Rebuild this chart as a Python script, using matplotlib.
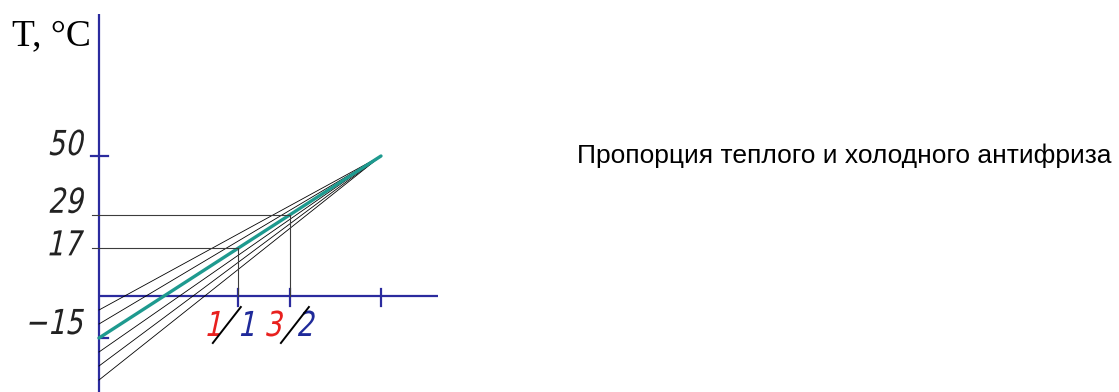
import matplotlib
matplotlib.use("Agg")
import matplotlib.pyplot as plt
from matplotlib.font_manager import FontProperties
from matplotlib.patches import PathPatch
from matplotlib.textpath import TextPath
from matplotlib.transforms import Affine2D, IdentityTransform
import numpy as np

# температуры (°C)
t_hot = 50
t_cold = -15
fan_starts = [-5, -10, -15, -20, -25, -30]   # начала вспомогательных лучей
mix_temps = [17, 29]                          # температура смеси
mix_warm = ["1", "3"]                         # доля тёплого
mix_cold = ["1", "2"]                         # доля холодного
y_labels = [50, 29, 17, -15]

AXIS = "#2b2b9e"
TEAL = "#1e9a8f"
GRID = "#3c3c3c"

W, H = 1119, 392
X0, X1 = 99, 381        # пиксели для x = 0 и x = 1
Y0, K = 296, 2.8        # пиксель для T = 0, пикселей на градус


def px(dx):
    return dx / (X1 - X0)


def py(dy):
    return dy / K


fig = plt.figure(figsize=(W / 100, H / 100), dpi=100)
ax = fig.add_axes([0, 0, 1, 1])
ax.set_xlim(-X0 / (X1 - X0), (W - X0) / (X1 - X0))
ax.set_ylim(-(H - Y0) / K, Y0 / K)
ax.axis("off")

# узкий наклонный шрифт для чисел (как чертёжный)
NUM_PROP = FontProperties(family="DejaVu Sans")


def draw_num(s, x, y, color, ha="left", height=26, sx=0.8, slant=0.27):
    """Число в пикселях: x - левый/правый край, y - базовая линия от верха."""
    path = TextPath((0, 0), s, size=40, prop=NUM_PROP)
    k = height / TextPath((0, 0), "0", size=40, prop=NUM_PROP).get_extents().height
    tr = Affine2D().scale(k).skew(np.arctan(slant), 0).scale(sx, 1.0)
    path = tr.transform_path(path)
    ext = path.get_extents()
    dx = x - ext.x0 if ha == "left" else x - ext.x1
    path = Affine2D().translate(dx, H - y).transform_path(path)
    ax.add_patch(PathPatch(path, transform=IdentityTransform(),
                           facecolor=color, edgecolor="none"))


# оси
ax.plot([0, 0], [-40, py(Y0 - 14)], color=AXIS, lw=1.6, solid_capstyle="butt")
ax.plot([0, px(438 - X0)], [0, 0], color=AXIS, lw=1.6, solid_capstyle="butt")
ax.plot([px(-8), px(9)], [t_hot, t_hot], color=AXIS, lw=1.6)
ax.plot([0, px(9)], [t_cold, t_cold], color=AXIS, lw=1.6)

# пучок лучей к точке (1, t_hot)
for t0 in fan_starts:
    if t0 == t_cold:
        continue
    ax.plot([0, 1], [t0, t_hot], color="black", lw=0.6)
ax.plot([0, 1], [t_cold, t_hot], color=TEAL, lw=2.4, solid_capstyle="round")

# засечки по оси x
ticks_x = [(t - t_cold) / (t_hot - t_cold) for t in mix_temps] + [1]
for xt in ticks_x:
    ax.plot([xt, xt], [py(7), py(-10)], color=AXIS, lw=1.6)

# проекции точек смеси
for t, xt in zip(mix_temps, ticks_x):
    ax.plot([px(-7), xt], [t, t], color=GRID, lw=0.8)
    ax.plot([xt, xt], [t, 0], color=GRID, lw=0.8)

# подписи по оси T
label_shift = [-1, -2, 7, -4]
for v, sh in zip(y_labels, label_shift):
    s = "\u2212" + str(-v) if v < 0 else str(v)
    draw_num(s, 84, Y0 - v * K + sh, "#222222", ha="right")

# подписи пропорций: красный - тёплый, синий - холодный
slash_off = [-11, 5]
gaps = [(-7, 14), (-12, 3)]
for xt, a, b, off, (ga, gb) in zip(ticks_x, mix_warm, mix_cold, slash_off, gaps):
    cx = X0 + xt * (X1 - X0) + off
    ax.plot([xt + px(off + 14), xt + px(off - 14)],
            [py(Y0 - 307), py(Y0 - 343)], color="black", lw=1.4)
    draw_num(a, cx + ga, 336, "#e8201e", ha="right")
    draw_num(b, cx + gb, 336, "#1f2a9a", ha="left")

ax.text(px(12 - X0), py(Y0 - 45), "T, °C", family="Liberation Serif",
        fontsize=27, ha="left", va="baseline")

ax.text(px(577 - X0), py(Y0 - 163), "Пропорция теплого и холодного антифриза",
        family="Liberation Sans", fontsize=19, ha="left", va="baseline")

fig.savefig("out.png", dpi=100)
